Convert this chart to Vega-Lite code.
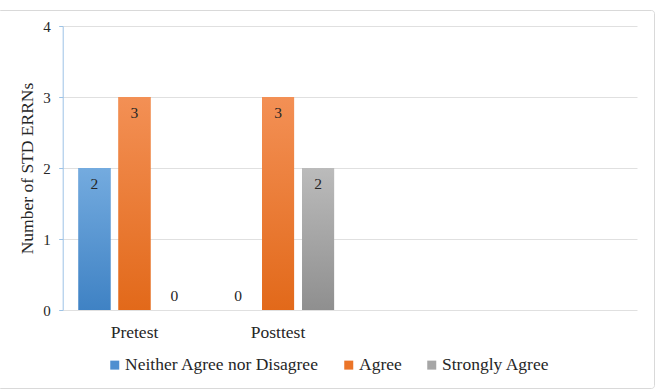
{
  "$schema": "https://vega.github.io/schema/vega-lite/v6.json",
  "width": 657,
  "height": 378,
  "autosize": {"type": "none"},
  "padding": {"left": -3, "top": 10, "right": 6, "bottom": 4},
  "background": "white",
  "config": {
    "view": {"stroke": "#D9D9D9", "strokeWidth": 1, "cornerRadius": 3},
    "font": "Liberation Serif"
  },
  "data": {
    "values": [
      {"test": "Pretest", "response": "Neither Agree nor Disagree", "count": 2},
      {"test": "Pretest", "response": "Agree", "count": 3},
      {"test": "Pretest", "response": "Strongly Agree", "count": 0},
      {"test": "Posttest", "response": "Neither Agree nor Disagree", "count": 0},
      {"test": "Posttest", "response": "Agree", "count": 3},
      {"test": "Posttest", "response": "Strongly Agree", "count": 2}
    ]
  },
  "encoding": {
    "x": {
      "field": "test",
      "type": "nominal",
      "sort": null,
      "scale": {
        "domain": ["Pretest", "Posttest", " ", "  "],
        "range": [65.7, 640],
        "paddingInner": 0.164,
        "paddingOuter": 0.082
      },
      "axis": {
        "title": null,
        "orient": "bottom",
        "offset": -78,
        "domain": false,
        "ticks": false,
        "grid": false,
        "labelAngle": 0,
        "labelFont": "Liberation Serif",
        "labelFontSize": 17.5,
        "labelColor": "#262626",
        "labelBaseline": "alphabetic",
        "labelPadding": 27.3
      }
    },
    "xOffset": {
      "field": "response",
      "type": "nominal",
      "scale": {
        "domain": ["Neither Agree nor Disagree", "Agree", "Strongly Agree"],
        "paddingInner": 0.2,
        "paddingOuter": 0.1
      }
    },
    "y": {
      "field": "count",
      "type": "quantitative",
      "scale": {"domain": [0, 4], "range": [300, 16], "nice": false, "zero": true},
      "axis": {
        "title": "Number of STD ERRNs",
        "values": [0, 1, 2, 3, 4],
        "format": "d",
        "offset": -65.7,
        "domainColor": "#9DC3E6",
        "tickColor": "#9DC3E6",
        "tickSize": 4,
        "labelPadding": 8.5,
        "labelFont": "Liberation Serif",
        "labelFontSize": 15,
        "labelColor": "#262626",
        "gridColor": "#E0E0E0",
        "titleFont": "Liberation Serif",
        "titleFontSize": 17.5,
        "titleFontWeight": "normal",
        "titleColor": "#262626",
        "titleAngle": -90,
        "titleBaseline": "middle",
        "titleAlign": "center",
        "titleX": -34.8,
        "titleY": 158
      }
    }
  },
  "layer": [
    {
      "mark": {"type": "bar"},
      "encoding": {
        "color": {
          "field": "response",
          "type": "nominal",
          "scale": {
            "domain": ["Neither Agree nor Disagree", "Agree", "Strongly Agree"],
            "range": ["#4F8FD0", "#EB7428", "#A6A6A6"]
          },
          "legend": {
            "orient": "none",
            "direction": "horizontal",
            "legendX": 109,
            "legendY": 346,
            "title": null,
            "padding": 0,
            "symbolType": "square",
            "symbolSize": 81,
            "symbolStrokeWidth": 0,
            "labelFont": "Liberation Serif",
            "labelFontSize": 17.5,
            "labelColor": "#262626",
            "labelOffset": 1.5,
            "labelLimit": 0,
            "columnPadding": 21
          }
        }
      }
    },
    {
      "mark": {"type": "bar"},
      "encoding": {
        "fill": {
          "condition": [
            {"test": "datum.response === 'Neither Agree nor Disagree'",
             "value": {"gradient": "linear", "x1": 0, "y1": 0, "x2": 0, "y2": 1,
                       "stops": [{"offset": 0, "color": "#74ABDF"}, {"offset": 1, "color": "#3F82C4"}]}},
            {"test": "datum.response === 'Agree'",
             "value": {"gradient": "linear", "x1": 0, "y1": 0, "x2": 0, "y2": 1,
                       "stops": [{"offset": 0, "color": "#F39055"}, {"offset": 1, "color": "#E2691A"}]}}
          ],
          "value": {"gradient": "linear", "x1": 0, "y1": 0, "x2": 0, "y2": 1,
                    "stops": [{"offset": 0, "color": "#BBBBBB"}, {"offset": 1, "color": "#8F8F8F"}]}
        }
      }
    },
    {
      "transform": [{"filter": "datum.count > 0"}],
      "mark": {"type": "text", "dy": 16, "fontSize": 15.5, "font": "Liberation Serif", "color": "#262626", "baseline": "middle"},
      "encoding": {"text": {"field": "count", "type": "quantitative"}}
    },
    {
      "transform": [{"filter": "datum.count == 0"}],
      "mark": {"type": "text", "dy": -14, "fontSize": 15.5, "font": "Liberation Serif", "color": "#262626", "baseline": "middle"},
      "encoding": {"text": {"field": "count", "type": "quantitative"}}
    }
  ]
}
